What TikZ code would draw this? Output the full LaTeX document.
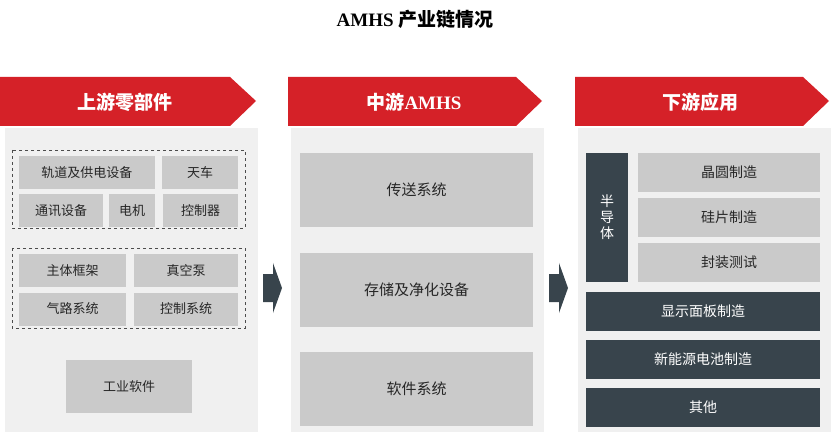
\documentclass[tikz,border=0pt]{standalone}
\usepackage{fontspec}
\setmainfont{Liberation Serif}
\newfontfamily\cjk{Noto Sans CJK SC}
\begin{document}
\begin{tikzpicture}[x=1pt,y=-1pt,
 box/.style={fill=boxg,draw=none,font=\cjk\fontsize{13}{13}\selectfont,text=black!85},
 dbox/.style={fill=darkg,draw=none,font=\cjk\fontsize{14}{14}\selectfont,text=white},
 grp/.style={draw=black!70,dashed,thin},
 panel/.style={fill=panelg,draw=none},
 hdr/.style={fill=hred,draw=none},
 htxt/.style={text=white,font=\cjk\bfseries\fontsize{19}{19}\selectfont}]
\definecolor{boxg}{HTML}{CACACA}
\definecolor{panelg}{HTML}{F0F0F0}
\definecolor{darkg}{HTML}{38444C}
\definecolor{hred}{HTML}{D52128}
\useasboundingbox[fill=white] (0,0) rectangle (831,433);
\node[font=\bfseries\fontsize{19}{19}\selectfont] (title) at (415,19) {AMHS {\cjk 产业链情况}};
% panels
\fill[panel] (5,128) rectangle (258,432);
\fill[panel] (291,128) rectangle (544,432);
\fill[panel] (578,128) rectangle (831,432);
% headers
\fill[hred] (0,77) -- (230,77) -- (256,101) -- (230,126) -- (0,126) -- cycle;
\fill[hred] (288,77) -- (516,77) -- (542,101) -- (516,126) -- (288,126) -- cycle;
\fill[hred] (575,77) -- (803,77) -- (829,101) -- (803,126) -- (575,126) -- cycle;
\node[htxt] (h1) at (125,102) {上游零部件};
\node[htxt] (h2) at (414,102) {中游{\rmfamily AMHS}};
\node[htxt] (h3) at (700,102) {下游应用};
% column 1
\draw[grp] (12,150) rectangle (245,228);
\node[box,minimum width=136,minimum height=33] (b1) at (87,172.5) {轨道及供电设备};
\node[box,minimum width=76,minimum height=33] (b2) at (200,172.5) {天车};
\node[box,minimum width=84,minimum height=33] (b3) at (61,210.5) {通讯设备};
\node[box,minimum width=46,minimum height=33] (b4) at (132,210.5) {电机};
\node[box,minimum width=75,minimum height=33] (b5) at (200.5,210.5) {控制器};
\draw[grp] (12,248) rectangle (245,328);
\node[box,minimum width=107,minimum height=33] (c1) at (72.5,270.5) {主体框架};
\node[box,minimum width=104,minimum height=33] (c2) at (186,270.5) {真空泵};
\node[box,minimum width=107,minimum height=33] (c3) at (72.5,309) {气路系统};
\node[box,minimum width=104,minimum height=33] (c4) at (186,309) {控制系统};
\node[box,minimum width=126,minimum height=53] (c5) at (129,386.5) {工业软件};
% column 2
\node[box,minimum width=233,minimum height=74,font=\cjk\fontsize{15}{15}\selectfont] (m1) at (416.5,190) {传送系统};
\node[box,minimum width=233,minimum height=74,font=\cjk\fontsize{15}{15}\selectfont] (m2) at (416.5,290) {存储及净化设备};
\node[box,minimum width=233,minimum height=74,font=\cjk\fontsize{15}{15}\selectfont] (m3) at (416.5,389) {软件系统};
% column 3
\node[dbox,minimum width=42,minimum height=129,align=center] (s0) at (607,217.5) {半\\[2pt]导\\[2pt]体};
\node[box,minimum width=182,minimum height=39,font=\cjk\fontsize{14}{14}\selectfont] (s1) at (729,172.5) {晶圆制造};
\node[box,minimum width=182,minimum height=39,font=\cjk\fontsize{14}{14}\selectfont] (s2) at (729,217.5) {硅片制造};
\node[box,minimum width=182,minimum height=39,font=\cjk\fontsize{14}{14}\selectfont] (s3) at (729,262.5) {封装测试};
\node[dbox,minimum width=234,minimum height=39] (d1) at (703,311.5) {显示面板制造};
\node[dbox,minimum width=234,minimum height=39] (d2) at (703,359.5) {新能源电池制造};
\node[dbox,minimum width=234,minimum height=39] (d3) at (703,407.5) {其他};
% arrows
\fill[darkg] (263,274) -- (273,274) -- (273,263) -- (282,288) -- (273,313) -- (273,302) -- (263,302) -- cycle;
\fill[darkg] (549,274) -- (559,274) -- (559,263) -- (568,288) -- (559,313) -- (559,302) -- (549,302) -- cycle;
\end{tikzpicture}
\end{document}
